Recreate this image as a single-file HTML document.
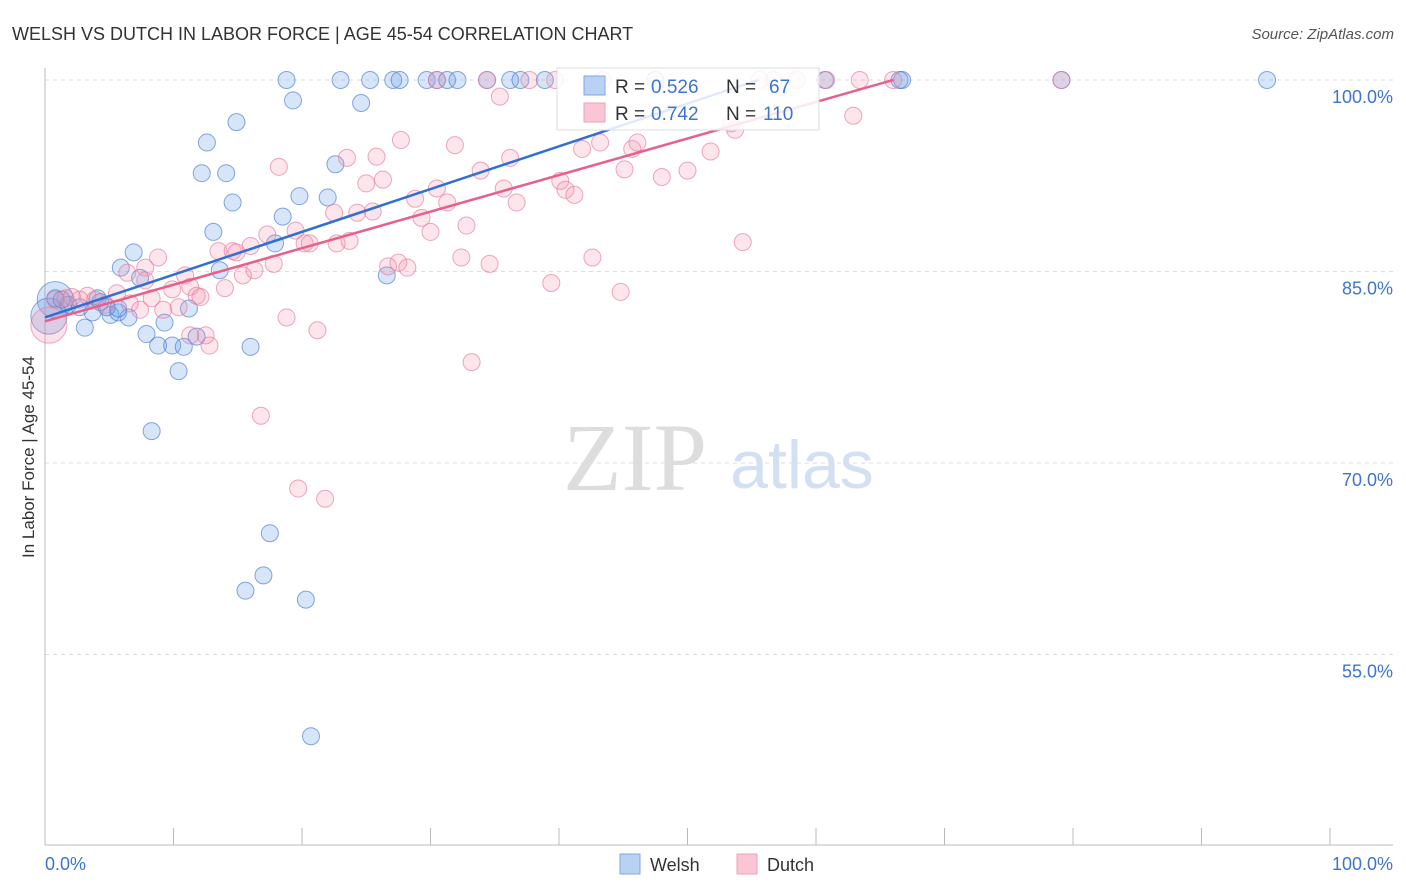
<!DOCTYPE html>
<html><head><meta charset="utf-8"><style>
body{margin:0;background:#fff;font-family:"Liberation Sans",sans-serif;}
svg{display:block}
</style></head><body>
<svg id="chart" width="1406" height="892">
<text x="12" y="40" font-size="18" fill="#333">WELSH VS DUTCH IN LABOR FORCE | AGE 45-54 CORRELATION CHART</text>
<text x="1394" y="39" font-size="15" fill="#555" font-style="italic" text-anchor="end">Source: ZipAtlas.com</text>
<text x="34" y="457" font-size="17" fill="#333" text-anchor="middle" transform="rotate(-90 34 457)">In Labor Force | Age 45-54</text>
<g id="watermark">
<text x="635" y="490" font-size="96" fill="#ddd" font-family="Liberation Serif,serif" text-anchor="middle">ZIP</text>
<text x="802" y="488" font-size="68" fill="#d3e0f3" text-anchor="middle">atlas</text>
</g>
<g id="grid"></g><g id="axes"></g><g id="pts"></g><g id="lines"></g>
<g>
<rect x="557" y="68" width="262" height="62" fill="rgba(255,255,255,0.85)" stroke="#ddd"/>
<rect x="584" y="76" width="21" height="19" fill="#b9d1f3" stroke="#7fa7e3"/>
<rect x="584" y="103" width="21" height="19" fill="#fac5d4" stroke="#eea3ba"/>
<text x="615" y="93" font-size="19" fill="#333">R =</text>
<text x="651" y="93" font-size="19" fill="#3d74d1">0.526</text>
<text x="726" y="93" font-size="19" fill="#333">N =</text>
<text x="769" y="93" font-size="19" fill="#3d74d1">67</text>
<text x="615" y="120" font-size="19" fill="#333">R =</text>
<text x="651" y="120" font-size="19" fill="#3d74d1">0.742</text>
<text x="726" y="120" font-size="19" fill="#333">N =</text>
<text x="763" y="120" font-size="19" fill="#3d74d1">110</text>
</g>
<g>
<rect x="620" y="854" width="20" height="20" fill="#b9d1f3" stroke="#7fa7e3"/>
<text x="650" y="871" font-size="18" fill="#333">Welsh</text>
<rect x="737" y="854" width="20" height="20" fill="#fac5d4" stroke="#eea3ba"/>
<text x="767" y="871" font-size="18" fill="#333">Dutch</text>
</g>
</svg>
<script>
const yTicks=[100,85,70,55];
const xTickLabels=["0.0%","100.0%"];
const welshX=[18.8,23.0,25.3,27.1,27.6,29.7,30.5,31.3,32.1,34.4,36.2,37.0,38.9,47.5,60.7,66.7,79.1,95.1,66.5,19.3,24.6,14.9,12.6,12.2,14.1,14.6,19.8,22.0,22.6,18.5,13.1,17.9,6.9,5.9,7.4,13.6,26.6,0.8,1.8,2.7,4.1,4.3,3.7,5.1,5.7,6.5,3.1,7.9,9.3,11.2,11.8,8.8,9.9,10.8,16.0,10.4,8.3,17.5,17.0,15.6,20.3,20.7,1.3,4.8,5.7];
const welshY=[100,100,100,100,100,100,100,100,100,100,100,100,100,100,100,100,100,100,100,98.4,98.2,96.7,95.1,92.7,92.7,90.4,90.9,90.8,93.4,89.3,88.1,87.2,86.5,85.3,84.5,85.1,84.7,82.9,82.4,82.2,82.9,82.6,81.8,81.6,81.8,81.4,80.6,80.1,81.0,82.1,79.9,79.2,79.2,79.1,79.1,77.2,72.5,64.5,61.2,60.0,59.3,48.6,82.8,82.2,82.1];
const welshBigX=[0.8,0.3];
const welshBigY=[82.8,81.5];
const dutchX=[0.8,1.6,2.1,3.3,3.9,4.7,5.6,6.4,7.4,7.8,8.8,8.3,9.2,9.9,10.4,10.9,11.3,11.8,12.5,12.8,13.5,14.0,14.6,14.9,15.4,16.3,16.0,17.3,17.8,18.2,18.8,19.5,19.7,20.2,20.6,21.2,21.8,16.8,22.7,22.5,23.5,23.7,24.3,25.0,25.5,25.8,26.3,26.7,27.5,27.7,28.2,28.8,29.3,30.0,30.5,31.3,31.9,32.4,32.8,33.2,33.9,34.6,34.4,35.4,35.7,36.2,36.7,37.7,39.7,39.4,40.1,40.5,41.2,41.8,42.6,43.2,44.8,45.1,45.7,46.1,48.0,48.3,50.0,51.8,53.4,53.7,54.3,55.6,56.7,58.5,60.8,62.9,63.4,66.0,79.1,30.5,43.4,2.7,6.6,7.8,12.1,11.3];
const dutchY=[82.8,82.9,83.0,83.1,82.8,82.4,83.3,84.9,82.0,85.3,86.1,82.9,82.0,83.6,82.2,84.7,83.8,83.1,80.0,79.2,86.6,83.7,86.6,86.5,84.7,85.1,87.0,87.9,85.6,93.2,81.4,88.2,68.0,87.2,87.2,80.4,67.2,73.7,87.2,89.6,93.9,87.4,89.6,91.9,89.7,94.0,92.2,85.4,85.7,95.3,85.3,90.7,89.2,88.1,91.5,90.4,94.9,86.1,88.6,77.9,92.9,85.6,100,98.7,91.5,93.9,90.4,100,100,84.1,92.1,91.4,91.0,94.6,86.1,95.1,83.4,93.0,94.6,95.1,92.4,97.3,92.9,94.4,96.6,96.1,87.3,100,100,100,100,97.2,100,100,100,100,100,82.8,82.5,84.3,83.0,80.0];
const dutchBigX=[0.3];
const dutchBigY=[80.8];
const welshTrend=[[0,81.4],[55.5,100]];
const dutchTrend=[[0,81.1],[66,100]];
const NS="http://www.w3.org/2000/svg";
const X0=45,X1=1330,Y100=80,PX15=191.5;
const sx=v=>X0+(X1-X0)*v/100;
const sy=v=>Y100+(100-v)*PX15/15;
function mk(tag,attrs,parent){const e=document.createElementNS(NS,tag);for(const k in attrs)e.setAttribute(k,attrs[k]);parent.appendChild(e);return e;}
const grid=document.getElementById('grid'),axes=document.getElementById('axes'),pts=document.getElementById('pts'),lines=document.getElementById('lines');
yTicks.forEach(t=>{
 const l=mk('line',{x1:45,x2:1393,y1:sy(t),y2:sy(t),stroke:'#ddd','stroke-dasharray':'4,4'},grid);
 
 
 const tx=mk('text',{x:1393,y:sy(t)+23,'font-size':18,fill:'#3d74d1','text-anchor':'end'},grid);
 tx.textContent=t.toFixed(1)+'%';
 
 
});
const ax=mk('line',{x1:45,x2:1393,y1:845,y2:845,stroke:'#bbb'},axes);


const ay=mk('line',{x1:45,x2:45,y1:68,y2:845,stroke:'#bbb'},axes);


for(let i=0;i<=10;i++){
 const t=mk('line',{x1:sx(i*10),x2:sx(i*10),y1:828,y2:845,stroke:'#bbb'},axes);
 
 
}
const xl0=mk('text',{x:45,y:870,'font-size':18,fill:'#3d74d1'},axes);xl0.textContent=xTickLabels[0];


const xl1=mk('text',{x:1393,y:870,'font-size':18,fill:'#3d74d1','text-anchor':'end'},axes);xl1.textContent=xTickLabels[1];


function draw(xs,ys,r,fill,stroke,name){
 xs.forEach((x,i)=>{
  const c=mk('circle',{cx:sx(x),cy:sy(ys[i]),r:r,fill:fill,stroke:stroke,'stroke-width':1},pts);
  
  
 });
}
draw(welshBigX,welshBigY,18,'rgba(110,160,230,0.3)','rgba(70,120,210,0.6)','welsh-point-large');
draw(dutchBigX,dutchBigY,18,'rgba(240,140,170,0.25)','rgba(230,120,155,0.6)','dutch-point-large');
draw(welshX,welshY,8.5,'rgba(110,160,230,0.28)','rgba(70,120,210,0.65)','welsh-point');
draw(dutchX,dutchY,8.5,'rgba(240,140,170,0.22)','rgba(230,120,155,0.65)','dutch-point');
const wl=mk('line',{x1:sx(welshTrend[0][0]),y1:sy(welshTrend[0][1]),x2:sx(welshTrend[1][0]),y2:sy(welshTrend[1][1]),stroke:'#2f6fd6','stroke-width':2.5},lines);


const dl=mk('line',{x1:sx(dutchTrend[0][0]),y1:sy(dutchTrend[0][1]),x2:sx(dutchTrend[1][0]),y2:sy(dutchTrend[1][1]),stroke:'#e8608a','stroke-width':2.5},lines);


</script>
</body></html>
